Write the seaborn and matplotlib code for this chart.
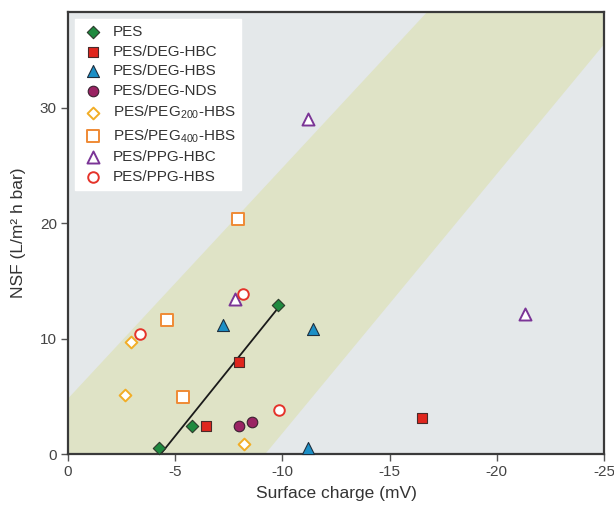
import numpy as np
import pandas as pd
import matplotlib
matplotlib.use("Agg")
import matplotlib.pyplot as plt
import seaborn as sns

# Membrane series: surface charge (mV) and NSF (L/m2 h bar)
pes_x = [-4.24, -5.78, -9.79]
pes_y = [0.5, 2.4, 12.9]
deg_hbc_x = [-6.44, -7.98, -16.5]
deg_hbc_y = [2.4, 8.0, 3.1]
deg_hbs_x = [-7.23, -11.43, -11.2]
deg_hbs_y = [11.2, 10.8, 0.5]
deg_nds_x = [-7.98, -8.58]
deg_nds_y = [2.4, 2.8]
peg200_x = [-2.66, -2.94, -8.2]
peg200_y = [5.1, 9.7, 0.9]
peg400_x = [-4.62, -5.36, -7.93]
peg400_y = [11.6, 4.9, 20.4]
ppg_hbc_x = [-7.8, -11.2, -21.3]
ppg_hbc_y = [13.4, 29.0, 12.1]
ppg_hbs_x = [-3.36, -8.16, -9.84]
ppg_hbs_y = [10.4, 13.9, 3.8]

labels = ["PES", "PES/DEG-HBC", "PES/DEG-HBS", "PES/DEG-NDS",
          "PES/PEG$_{200}$-HBS", "PES/PEG$_{400}$-HBS", "PES/PPG-HBC", "PES/PPG-HBS"]

# Trend band edges (surface charge, NSF)
band_upper_x = [0.0, -25.0]
band_upper_y = [4.8, 54.8]
band_lower_x = [-9.2, -25.0]
band_lower_y = [0.0, 35.5]

x_ticks = [0, -5, -10, -15, -20, -25]
y_ticks = [0, 10, 20, 30]

sns.set_theme(style="white")
plt.rcParams["font.family"] = ["Liberation Sans", "DejaVu Sans"]
plt.rcParams["mathtext.default"] = "regular"

fig = plt.figure(figsize=(6.14, 5.05), dpi=100)
ax = fig.add_axes([68 / 614, 1 - 454 / 505, 536 / 614, 442 / 505])
ax.set_facecolor("#e4e8ea")

# shaded band between the two edges
xs = np.linspace(0, -25, 300)
up = np.interp(-xs, [-v for v in band_upper_x], band_upper_y)
lo = np.where(xs > band_lower_x[0], 0.0,
              np.interp(-xs, [-v for v in band_lower_x], band_lower_y))
ax.fill_between(xs, lo, up, color="#dfe3c6", linewidth=0, zorder=0)

series = [
    (pes_x, pes_y, "D", "#1f8a3f", "#2a3a2a", 40, 0.8),
    (deg_hbc_x, deg_hbc_y, "s", "#e0261e", "#4a2a2a", 62, 0.8),
    (deg_hbs_x, deg_hbs_y, "^", "#1b8fc6", "#1e3040", 75, 0.8),
    (deg_nds_x, deg_nds_y, "o", "#9a2363", "#3a2030", 58, 0.8),
    (peg200_x, peg200_y, "D", "white", "#f2ad26", 36, 1.4),
    (peg400_x, peg400_y, "s", "white", "#ef8a35", 64, 1.4),
    (ppg_hbc_x, ppg_hbc_y, "^", "white", "#7b3597", 75, 1.4),
    (ppg_hbs_x, ppg_hbs_y, "o", "white", "#e5332a", 58, 1.4),
]

# regression line through the PES series, from zero NSF to the last point
slope, icpt = np.polyfit(pes_x, pes_y, 1)
x0 = -icpt / slope
line_df = pd.DataFrame({"x": [x0, min(pes_x)]})
line_df["y"] = slope * line_df["x"] + icpt
sns.lineplot(data=line_df, x="x", y="y", color="#1a1a1a", linewidth=1.3,
             ax=ax, zorder=2)

for (sx, sy, mk, fc, ec, sz, lw), lab in zip(series, labels):
    df = pd.DataFrame({"x": sx, "y": sy})
    sns.scatterplot(data=df, x="x", y="y", marker=mk, s=sz, color=fc,
                    edgecolor=ec, linewidth=lw, label=lab, ax=ax,
                    zorder=3, clip_on=False)

ax.set_xlim(0, -25)
ax.set_ylim(0, 38.3)
ax.set_xticks(x_ticks)
ax.set_xticklabels([str(t) for t in x_ticks])
ax.set_yticks(y_ticks)
ax.set_yticklabels([str(t) for t in y_ticks])
ax.tick_params(axis="both", which="major", direction="out", length=5, width=1,
               color="#555555", labelcolor="#444444", labelsize=11,
               bottom=True, left=True, top=False, right=False, pad=3)

for sp in ax.spines.values():
    sp.set_color("#3a3a3a")
    sp.set_linewidth(1.6)

ax.set_xlabel("Surface charge (mV)", fontsize=12.5, color="#333333", labelpad=5)
ax.set_ylabel("NSF (L/m² h bar)", fontsize=12.5, color="#333333", labelpad=10)

leg = ax.legend(loc="upper left", bbox_to_anchor=(0.008, 0.99), frameon=True,
                fancybox=False, framealpha=1, facecolor="white", edgecolor="white",
                fontsize=11, handletextpad=0.5, labelspacing=0.38,
                borderpad=0.35, handlelength=1.6, borderaxespad=0.2)
for t in leg.get_texts():
    t.set_color("#333333")

fig.savefig("out.png", dpi=100, facecolor="white")
